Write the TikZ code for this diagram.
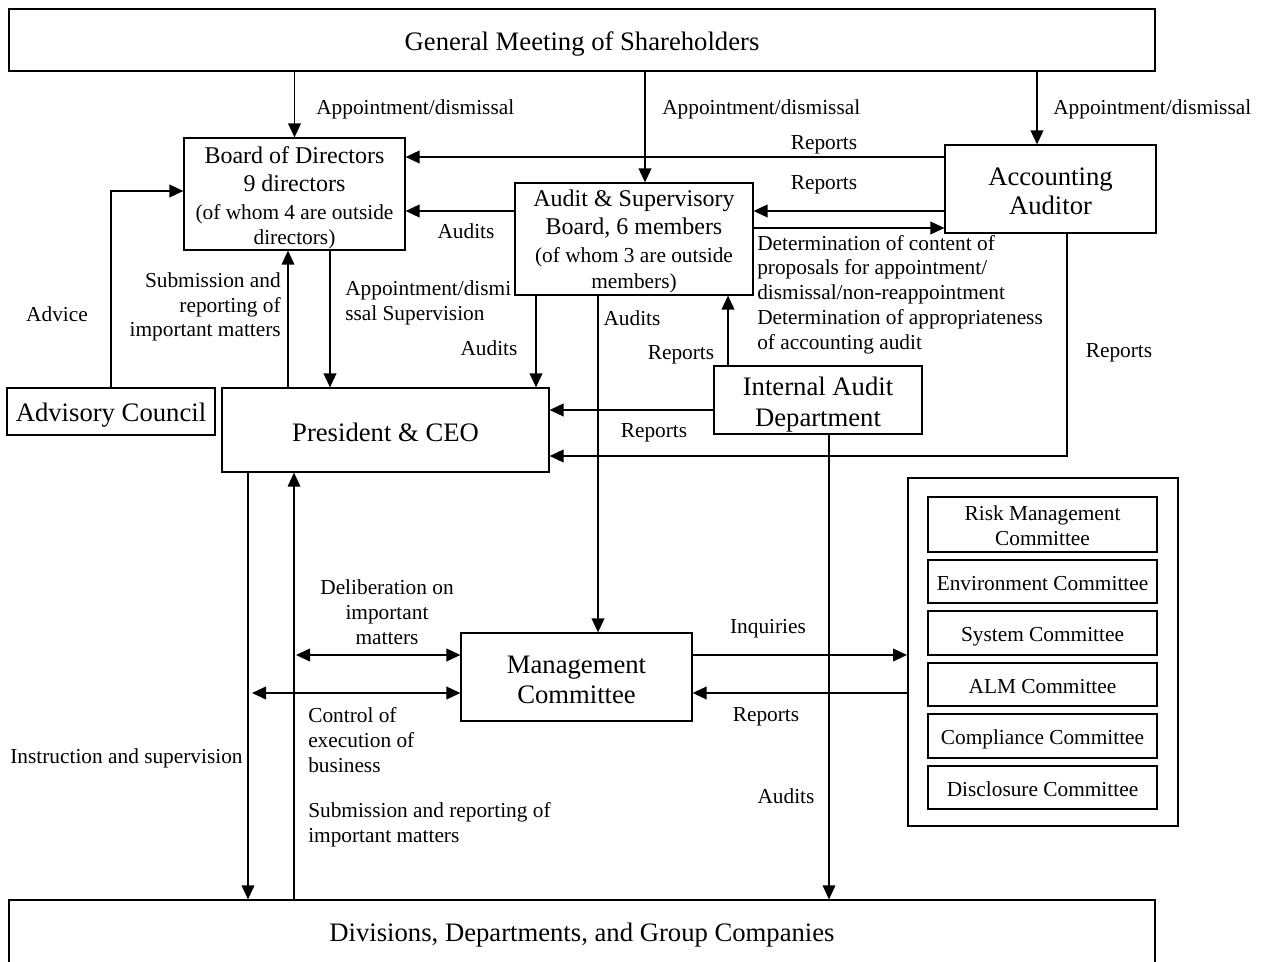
\documentclass[tikz,border=0pt]{standalone}
\usepackage{fontspec}
\setmainfont{Liberation Serif}
\usetikzlibrary{arrows.meta}
% #1 name, #2 text style, #3-#6 corners (px), #7 text shift down (px), #8 text
\newcommand\boxat[8]{%
  \node[box,minimum width={(#5-#3)*0.75pt},minimum height={(#6-#4)*0.75pt}] (#1) at ({(#3+#5)/2},{(#4+#6)/2}) {};
  \node[btext,#2] (#1-t) at ([yshift={-(#7)*0.75pt}]#1.center) {#8};}
\begin{document}
\begin{tikzpicture}[x=0.75pt,y=-0.75pt,
  box/.style={draw,line width=0.9pt,inner sep=0pt},
  btext/.style={inner sep=0pt,align=center},
  big/.style={font=\fontsize{20}{23}\selectfont},
  mid/.style={font=\fontsize{18}{21}\selectfont},
  sml/.style={font=\fontsize{16}{18.6}\selectfont},
  lbl/.style={font=\fontsize{16}{18.6}\selectfont,inner sep=0pt},
  tip/.tip={Triangle[length=10.5pt,width=9.5pt]},
  arr/.style={line width=1.3pt,-tip},
  tarr/.style={line width=0.9pt,-tip},
  darr/.style={line width=1.3pt,tip-tip}]
\useasboundingbox (0,0) rectangle (1263,962);
\clip (0,0) rectangle (1263,962);
% boxes
\boxat{gms}{big}{9}{9}{1155}{71}{4}{General Meeting of Shareholders}
\boxat{bod}{mid}{184}{138}{405}{250}{3.5}{Board of Directors\\9 directors\\{\fontsize{16}{19}\selectfont(of whom 4 are outside}\\[-2pt]{\fontsize{16}{19}\selectfont directors)}}
\boxat{asb}{mid}{515}{183}{753}{295}{2.5}{Audit \& Supervisory\\Board, 6 members\\{\fontsize{16}{19}\selectfont(of whom 3 are outside}\\[-2pt]{\fontsize{16}{19}\selectfont members)}}
\boxat{acc}{big}{945}{145}{1156}{233}{2}{Accounting\\[-1pt]Auditor}
\boxat{adv}{big}{7}{388}{215}{435}{4}{Advisory Council}
\boxat{pres}{big}{222}{388}{549}{472}{2}{President \& CEO}
\boxat{iad}{big}{714}{366}{922}{434}{4.5}{Internal Audit\\Department}
\boxat{mc}{big}{461}{633}{692}{721}{3}{Management\\Committee}
\node[box,line width=1.5pt,minimum width={270*0.75pt},minimum height={348*0.75pt}] (com) at (1043,652) {};
\boxat{risk}{sml}{928}{497}{1157}{552}{1}{Risk Management\\Committee}
\boxat{env}{sml}{928}{560}{1157}{603}{2}{Environment Committee}
\boxat{sys}{sml}{928}{611}{1157}{655}{3.5}{System Committee}
\boxat{alm}{sml}{928}{663}{1157}{706}{2}{ALM Committee}
\boxat{comp}{sml}{928}{714}{1157}{758}{3}{Compliance Committee}
\boxat{disc}{sml}{928}{766}{1157}{809}{2}{Disclosure Committee}
\boxat{div}{big}{9}{900}{1155}{965}{3}{Divisions, Departments, and Group Companies}
% helper coordinates
\coordinate (c645) at (645,0);
\coordinate (c1037) at (1037,0);
\coordinate (c330) at (330,0);
\coordinate (c288) at (288,0);
\coordinate (c111) at (111,0);
\coordinate (c536) at (536,0);
\coordinate (c598) at (598,0);
\coordinate (c728) at (728,0);
\coordinate (c1067) at (1067,0);
\coordinate (c829) at (829,0);
\coordinate (c248) at (248,0);
\coordinate (c294) at (294,0);
\coordinate (r157) at (0,157);
\coordinate (r211) at (0,211);
\coordinate (r228) at (0,228);
\coordinate (r191) at (0,191);
\coordinate (r410) at (0,410);
\coordinate (r456) at (0,456);
\coordinate (r655) at (0,655);
\coordinate (r693) at (0,693);
\coordinate (d1) at (296,655);
\coordinate (d2) at (252,693);
% connectors
\draw[arr] (gms.south -| bod.north) -- (bod.north);
\draw[arr] (gms.south -| c645) -- (asb.north -| c645);
\draw[arr] (gms.south -| c1037) -- (acc.north -| c1037);
\draw[arr] (acc.west |- r157) -- (bod.east |- r157);
\draw[arr] (acc.west |- r211) -- (asb.east |- r211);
\draw[arr] (asb.east |- r228) -- (acc.west |- r228);
\draw[arr] (asb.west |- r211) -- (bod.east |- r211);
\draw[arr] (bod.south -| c330) -- (pres.north -| c330);
\draw[tarr] (pres.north -| c288) -- (bod.south -| c288);
\draw[arr] (adv.north -| c111) |- (bod.west |- r191);
\draw[arr] (asb.south -| c536) -- (pres.north -| c536);
\draw[arr] (asb.south -| c598) -- (mc.north -| c598);
\draw[arr] (iad.north -| c728) -- (asb.south -| c728);
\draw[arr] (iad.west |- r410) -- (pres.east |- r410);
\draw[arr] (acc.south -| c1067) |- (pres.east |- r456);
\draw[tarr] (iad.south -| c829) -- (div.north -| c829);
\draw[tarr] (pres.south -| c248) -- (div.north -| c248);
\draw[tarr] (div.north -| c294) -- (pres.south -| c294);
\draw[darr] (d1) -- (mc.west |- r655);
\draw[darr] (d2) -- (mc.west |- r693);
\draw[arr] (mc.east |- r655) -- (com.west |- r655);
\draw[arr] (com.west |- r693) -- (mc.east |- r693);
% labels
\node[lbl,anchor=west] (l1) at (316,109) {Appointment/dismissal};
\node[lbl,anchor=west] (l2) at (662,109) {Appointment/dismissal};
\node[lbl,anchor=west] (l3) at (1053,109) {Appointment/dismissal};
\node[lbl] (l4) at (824,145) {Reports};
\node[lbl] (l5) at (824,185) {Reports};
\node[lbl,anchor=west,align=left] (l6) at (757,294.5) {Determination of content of\\proposals for appointment/\\dismissal/non-reappointment\\Determination of appropriateness\\of accounting audit};
\node[lbl] (l7) at (466,231) {Audits};
\node[lbl,anchor=west,align=left] (l8) at (345,302.5) {Appointment/dismi\\ssal Supervision};
\node[lbl,anchor=east,align=right] (l9) at (281,307) {Submission and\\reporting of\\important matters};
\node[lbl] (l10) at (57,314) {Advice};
\node[lbl] (l11) at (489,348) {Audits};
\node[lbl] (l12) at (632,318) {Audits};
\node[lbl] (l13) at (681,355) {Reports};
\node[lbl] (l14) at (654,433) {Reports};
\node[lbl] (l15) at (1119,353) {Reports};
\node[lbl] (l16) at (786,796) {Audits};
\node[lbl] (l17) at (126.5,758) {Instruction and supervision};
\node[lbl,anchor=west,align=left] (l18) at (308,824.5) {Submission and reporting of\\important matters};
\node[lbl,align=center] (l19) at (387,612) {Deliberation on\\important\\matters};
\node[lbl,anchor=west,align=left] (l20) at (308,740) {Control of\\execution of\\business};
\node[lbl] (l21) at (768,629) {Inquiries};
\node[lbl] (l22) at (766,717) {Reports};
\end{tikzpicture}
\end{document}
